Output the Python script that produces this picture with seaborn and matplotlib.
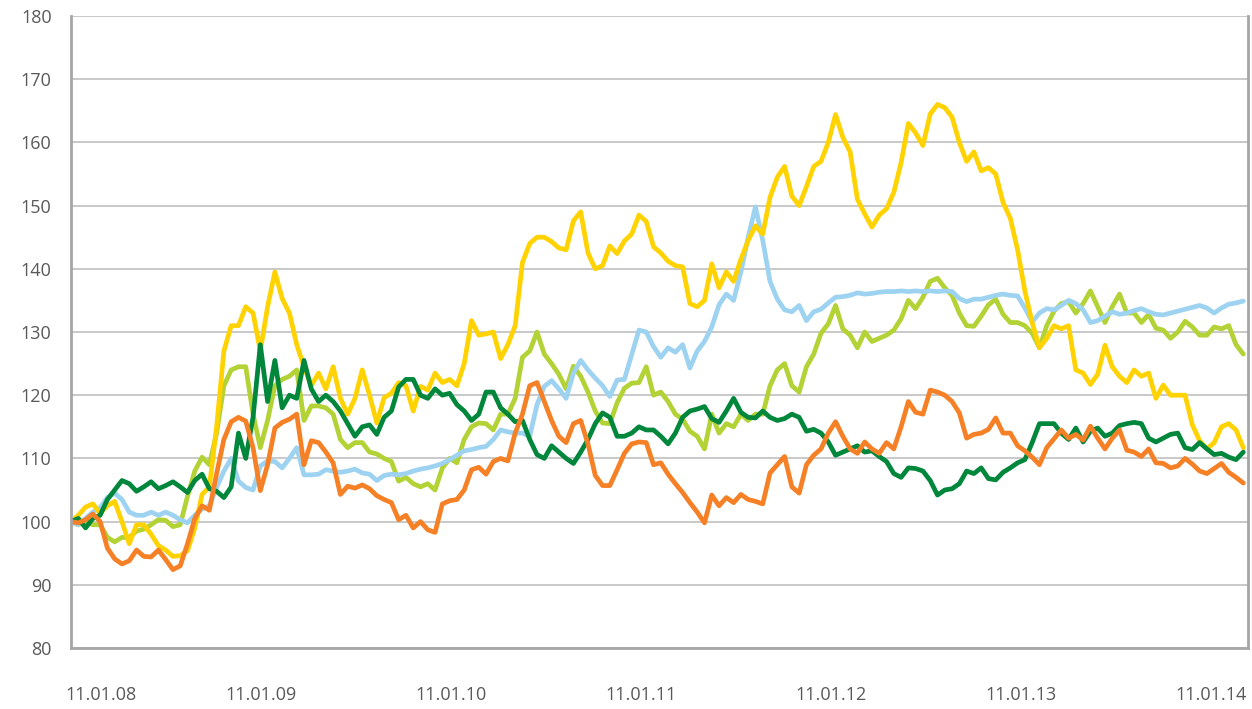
import numpy as np
import pandas as pd
import matplotlib.pyplot as plt
import matplotlib.transforms as mtransforms
import seaborn as sns

# fortnightly index values, base 100 at 11.01.08
dates = pd.date_range('2008-01-11', periods=162, freq='14D')

dark_green = [100, 100.5, 99, 100.5, 101, 103.5, 105, 106.5, 106, 104.8,
              105.5, 106.3, 105.2, 105.7, 106.3, 105.5, 104.6, 106.5, 107.5, 105.2,
              104.8, 103.8, 105.5, 114, 110, 116.5, 128, 119, 125.5, 118,
              120, 119.5, 125.5, 121, 119, 120, 119, 117.5, 115.5, 113.5,
              115, 115.3, 113.8, 116.5, 117.5, 121.3, 122.5, 122.5, 120, 119.5,
              121, 120, 120.3, 118.5, 117.5, 116, 117, 120.5, 120.5, 118,
              117, 115.8, 116, 113, 110.6, 110, 112, 111, 110, 109.2,
              111, 113, 115.5, 117.2, 116.5, 113.5, 113.5, 114, 115, 114.5,
              114.5, 113.5, 112.3, 114, 116.5, 117.5, 117.8, 118.2, 116.3, 115.7,
              117.5, 119.5, 117.3, 116.5, 116.4, 117.5, 116.5, 116, 116.3, 117,
              116.5, 114.3, 114.6, 114, 112.6, 110.5, 111, 111.5, 112, 111,
              111.2, 110.3, 109.5, 107.6, 107, 108.5, 108.4, 108, 106.5, 104.2,
              105, 105.2, 106, 108, 107.6, 108.5, 106.8, 106.6, 107.8, 108.5,
              109.3, 109.8, 112.5, 115.5, 115.5, 115.5, 114, 113, 114.8, 112.6,
              114.3, 114.8, 113.5, 114, 115.2, 115.5, 115.7, 115.5, 113.2, 112.6,
              113.2, 113.8, 114, 111.7, 111.4, 112.5, 111.5, 110.6, 110.8, 110.2,
              109.8, 111]

yellow = [100, 101, 102.3, 102.8, 101.3, 102.5, 103.2, 100, 96.5, 99.5,
          99.5, 98, 96.2, 95.5, 94.5, 94.6, 95.4, 99, 104.3, 105.5,
          115, 127, 131, 131, 134, 133, 127, 134, 139.5, 135.3,
          133, 128, 124.5, 121.5, 123.5, 121, 124.5, 119.5, 117, 119.5,
          124, 120, 115.6, 119.6, 120.3, 122, 121.5, 117.5, 121.4, 120.8,
          123.5, 122, 122.5, 121.5, 125, 131.8, 129.5, 129.7, 130, 125.8,
          128, 131, 141, 144, 145, 145, 144.3, 143.3, 143, 147.6,
          149, 142.5, 140, 140.5, 143.6, 142.4, 144.4, 145.5, 148.5, 147.5,
          143.5, 142.5, 141.2, 140.5, 140.3, 134.5, 134, 135, 140.8, 137,
          139.5, 138, 141.5, 144.5, 146.8, 145.5, 151.3, 154.5, 156.2, 151.5,
          150, 153, 156.2, 157, 160, 164.4, 160.8, 158.5, 151, 148.7,
          146.6, 148.5, 149.5, 152.1, 156.8, 163, 161.5, 159.5, 164.5, 166,
          165.5, 164, 160, 157, 158.5, 155.5, 156, 155, 150.5, 148,
          143, 136.5, 131.5, 127.5, 129, 131, 130.5, 131, 124, 123.5,
          121.7, 123.3, 127.9, 124.5, 123, 122, 124, 123, 123.5, 119.5,
          121.6, 120, 120, 120, 115.3, 112.8, 111.5, 112.5, 115, 115.5,
          114.5, 111.7]

light_blue = [100, 99.5, 100.5, 101.5, 102.2, 103.8, 104.5, 103.5, 101.5, 101,
              101, 101.5, 101, 101.5, 101, 100.3, 99.8, 101, 102, 102.5,
              105.4, 108, 110, 106.4, 105.4, 105, 108.8, 109.6, 109.5, 108.5,
              110, 111.7, 107.4, 107.4, 107.5, 108.2, 108, 107.8, 108, 108.3,
              107.7, 107.5, 106.5, 107.3, 107.5, 107.4, 107.6, 108, 108.3, 108.5,
              108.8, 109.2, 109.8, 110.5, 111.2, 111.4, 111.7, 111.9, 113, 114.5,
              114.2, 114, 114, 113.5, 118.5, 121.4, 122.3, 121, 119.5, 123.5,
              125.5, 124, 122.7, 121.5, 119.8, 122.4, 122.5, 126.4, 130.3, 130,
              127.7, 126, 127.5, 126.8, 128, 124.3, 127, 128.5, 130.8, 134.3,
              136, 135, 139.5, 145, 149.8, 144.5, 138, 135.2, 133.5, 133.2,
              134.2, 131.8, 133.2, 133.6, 134.6, 135.5, 135.6, 135.8, 136.2, 136,
              136.1, 136.3, 136.4, 136.4, 136.5, 136.4, 136.5, 136.4, 136.5, 136.4,
              136.5, 136.4, 135.3, 134.8, 135.2, 135.2, 135.5, 135.8, 136, 135.8,
              135.7, 133.8, 131.6, 133, 133.7, 133.5, 134.2, 135, 134.5, 133.5,
              131.5, 131.8, 132.5, 133.2, 132.8, 133, 133.4, 133.7, 133.2, 132.8,
              132.7, 133, 133.3, 133.6, 133.9, 134.2, 133.8, 133, 133.8, 134.4,
              134.6, 134.9]

light_green = [100, 99.5, 100, 99.5, 99.5, 97.5, 96.8, 97.5, 97.5, 98.5,
               98.8, 99.5, 100.3, 100.2, 99.2, 99.5, 104, 108, 110.2, 109,
               114, 121.5, 124, 124.5, 124.5, 117, 111.7, 116, 121.5, 122.5,
               123, 124, 116, 118.3, 118.3, 118, 117, 113, 111.7, 112.5,
               112.5, 111, 110.7, 110, 109.5, 106.4, 107, 106, 105.5, 106,
               105, 108.5, 110, 109.3, 113, 115, 115.6, 115.5, 114.5, 117,
               117, 119.5, 126, 127, 130, 126.5, 125, 123.3, 121, 124.6,
               123, 120.5, 117.5, 115.6, 115.5, 118.8, 121.1, 121.9, 122, 124.5,
               120, 120.5, 119, 117, 116.2, 114.3, 113.5, 111.5, 117, 114,
               115.5, 115, 117, 116, 117, 117, 121.5, 124, 125, 121.5,
               120.5, 124.5, 126.5, 129.8, 131.3, 134.2, 130.5, 129.5, 127.5, 130,
               128.5, 129, 129.5, 130.3, 132.1, 135, 133.7, 135.5, 138, 138.5,
               137, 135.8, 133, 131, 130.9, 132.5, 134.3, 135.2, 132.8, 131.5,
               131.5, 131, 129.8, 127.5, 131, 133.3, 134.5, 134.8, 133, 134.5,
               136.5, 134, 131.5, 134, 136, 133, 133, 131.5, 132.8, 130.6,
               130.3, 129, 130, 131.7, 130.8, 129.5, 129.5, 130.8, 130.5, 131,
               128, 126.5]

orange = [100, 99.8, 100.3, 101.2, 100, 95.8, 94.1, 93.3, 93.8, 95.5,
          94.5, 94.4, 95.5, 94, 92.4, 93, 96.5, 100.5, 102.5, 101.8,
          107.6, 113, 115.8, 116.5, 115.9, 111.7, 104.9, 109, 114.8, 115.7,
          116.2, 117, 109, 112.8, 112.5, 111, 109.3, 104.3, 105.6, 105.3,
          105.8, 105.2, 104.1, 103.5, 103, 100.3, 101, 99, 100, 98.7,
          98.3, 102.8, 103.3, 103.5, 105, 108.2, 108.6, 107.5, 109.5, 110,
          109.6, 114, 117, 121.5, 122, 119, 116, 113.5, 112.5, 115.5,
          116, 112.3, 107.3, 105.7, 105.7, 108.2, 110.8, 112.3, 112.6, 112.5,
          109, 109.3, 107.5, 106, 104.6, 103, 101.5, 99.8, 104.2, 102.5,
          103.8, 103, 104.3, 103.5, 103.2, 102.8, 107.7, 109, 110.3, 105.5,
          104.5, 109, 110.5, 111.5, 114, 115.8, 113.5, 111.5, 110.8, 112.6,
          111.5, 110.8, 112.5, 111.5, 115, 119, 117.3, 117, 120.8, 120.5,
          120, 119, 117.2, 113.2, 113.8, 114, 114.6, 116.4, 114, 114,
          112, 111.2, 110.2, 109, 111.7, 113.1, 114.5, 113.2, 113.8, 112.9,
          115.1, 113.2, 111.5, 113.2, 114.5, 111.3, 111, 110.3, 111.5, 109.3,
          109.2, 108.5, 108.8, 110, 109.1, 108, 107.6, 108.4, 109.2, 107.8,
          107, 106.1]

year_ticks = pd.to_datetime(['2008-01-11', '2009-01-11', '2010-01-11', '2011-01-11',
                             '2012-01-11', '2013-01-11', '2014-01-11'])
y_ticks = list(range(80, 190, 10))

df = pd.DataFrame({'date': dates, 'Light green': light_green, 'Light blue': light_blue,
                   'Yellow': yellow, 'Dark green': dark_green, 'Orange': orange})
df = df.melt(id_vars='date', var_name='series', value_name='value')

order = ['Light green', 'Light blue', 'Yellow', 'Dark green', 'Orange']
palette = {'Light green': '#B3D235', 'Light blue': '#9DD3F1', 'Yellow': '#FFD200',
           'Dark green': '#00873C', 'Orange': '#F58025'}

sns.set_style("white")
plt.rcParams['font.family'] = ['Open Sans', 'DejaVu Sans']

fig = plt.figure(figsize=(12.52, 7.09), dpi=100)
ax = fig.add_axes([71 / 1252, 1 - 648 / 709, (1248 - 71) / 1252, (648 - 16) / 709])

sns.lineplot(data=df, x='date', y='value', hue='series', hue_order=order,
             palette=palette, linewidth=3.4, legend=False, estimator=None, ax=ax)

ax.set_ylim(80, 180)
ax.set_yticks(y_ticks)
ax.set_xlim(dates[0], dates[-1] + pd.Timedelta(days=9))
ax.set_xticks(year_ticks)
ax.set_xticklabels([d.strftime('%d.%m.%y') for d in year_ticks])
ax.set_xlabel('')
ax.set_ylabel('')

ax.yaxis.grid(True, color='#C0C0C0', linewidth=1.2)
ax.xaxis.grid(False)
ax.set_axisbelow(True)
for side in ['left', 'bottom', 'right']:
    ax.spines[side].set_color('#A6A6A6')
    ax.spines[side].set_linewidth(2)
ax.spines['top'].set_visible(False)

ax.tick_params(axis='y', length=0, pad=14, labelsize=13, labelcolor='#595959')
ax.tick_params(axis='x', length=7, width=1.3, color='#A6A6A6', pad=20,
               labelsize=13, labelcolor='#595959', direction='out')

# first date label sits inside the plot, like the original
first = ax.get_xticklabels()[0]
first.set_transform(first.get_transform() +
                    mtransforms.ScaledTranslation(30 / 100, 0, fig.dpi_scale_trans))

fig.savefig('out.png', dpi=100)
